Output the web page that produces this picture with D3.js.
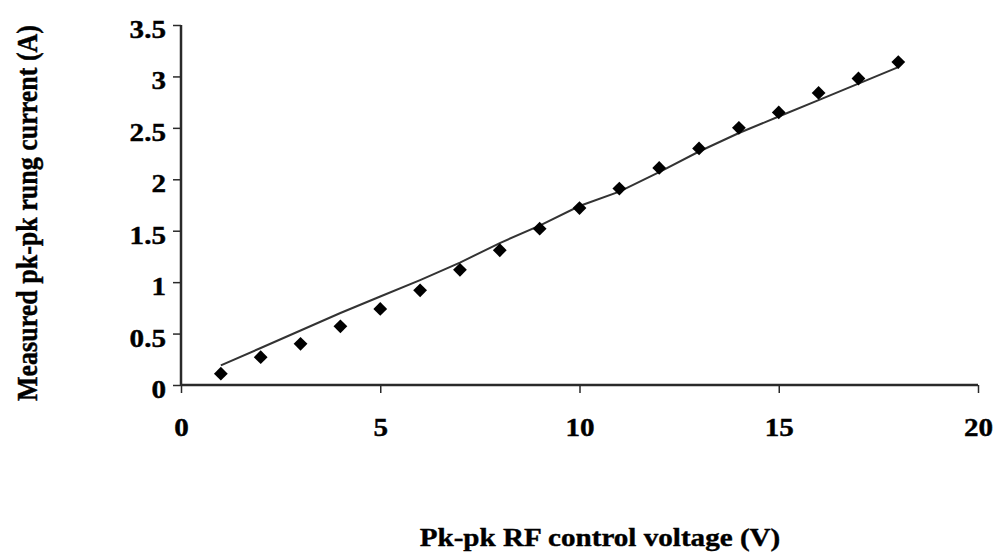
<!DOCTYPE html>
<html>
<head>
<meta charset="utf-8">
<script src="https://cdn.jsdelivr.net/npm/d3@7"></script>
<style>
  body { margin: 0; background: #fff; }
  text { font-family: "Liberation Serif", "Times New Roman", serif; font-weight: bold; fill: #000; stroke: #000; stroke-width: 0.4px; }
</style>
</head>
<body>
<div class="container-chart"></div>
<script>
// measured points and the fitted line
const voltage = [1, 2, 3, 4, 5, 6, 7, 8, 9, 10, 11, 12, 13, 14, 15, 16, 17, 18];
const measured = [0.11, 0.27, 0.40, 0.57, 0.74, 0.92, 1.12, 1.31, 1.52, 1.72, 1.91, 2.11, 2.30, 2.50, 2.65, 2.84, 2.98, 3.14];
const fitted = [0.19, 0.36, 0.53, 0.70, 0.86, 1.02, 1.19, 1.38, 1.55, 1.74, 1.88, 2.07, 2.27, 2.45, 2.61, 2.77, 2.93, 3.09];
const xTicks = [0, 5, 10, 15, 20];
const yTicks = [0, 0.5, 1, 1.5, 2, 2.5, 3, 3.5];

const width = 995, height = 558;
const margin = { top: 25, right: 17, bottom: 173, left: 181 };
const fontSize = "26px";
const stretch = 1.12; // the original glyphs are a bit wider than they are tall

const svg = d3.select(".container-chart")
    .append("svg")
    .attr("width", width)
    .attr("height", height);

const x = d3.scaleLinear().domain([0, 20]).range([margin.left, width - margin.right]);
const y = d3.scaleLinear().domain([0, 3.5]).range([height - margin.bottom, margin.top]);

// y axis
const yAxis = svg.append("g")
    .attr("transform", `translate(${margin.left},0)`)
    .call(d3.axisLeft(y).tickValues(yTicks).tickSize(8)
        .tickFormat(d => String(d)));

// x axis
const xAxis = svg.append("g")
    .attr("transform", `translate(0,${y(0)})`)
    .call(d3.axisBottom(x).tickValues(xTicks).tickSize(8));

[xAxis, yAxis].forEach(g => {
    g.select(".domain").attr("stroke", "#2a2a2a").attr("stroke-width", 2.5);
    g.selectAll(".tick line").attr("stroke", "#2a2a2a").attr("stroke-width", 1.5);
    g.selectAll(".tick text")
        .style("font-size", fontSize)
        .style("font-family", "Liberation Serif")
        .attr("x", 0).attr("y", 0);
});
xAxis.select(".domain").attr("d", `M${x(0)},0H${x(20)}`);
yAxis.select(".domain").attr("d", `M0,${y(3.5)}V${y(0)}`);

yAxis.selectAll(".tick text")
    .attr("dy", "0.48em")
    .attr("transform", `translate(-15,0) scale(${stretch},1)`);
xAxis.selectAll(".tick text")
    .attr("dy", "0.32em")
    .attr("transform", `translate(0,43) scale(${stretch},1)`);

// fitted line
const line = d3.line()
    .x((d, i) => x(voltage[i]))
    .y(d => y(d));

svg.append("path")
    .datum(fitted)
    .attr("fill", "none")
    .attr("stroke", "#333")
    .attr("stroke-width", 2)
    .attr("d", line);

// diamond markers
const diamond = d3.symbol().type(d3.symbolSquare).size(95);
svg.append("g")
    .selectAll("path")
    .data(measured)
    .join("path")
    .attr("d", diamond)
    .attr("transform", (d, i) => `translate(${x(voltage[i])},${y(d)}) rotate(45)`)
    .attr("fill", "#000");

// axis titles
svg.append("text")
    .attr("transform", `translate(600,546) scale(${stretch},1)`)
    .attr("text-anchor", "middle")
    .style("font-size", fontSize)
    .text("Pk-pk RF control voltage (V)");

svg.append("text")
    .attr("transform", `translate(37,213) scale(${stretch},1) rotate(-90)`)
    .attr("text-anchor", "middle")
    .style("font-size", fontSize)
    .text("Measured pk-pk rung current (A)");
</script>
</body>
</html>
